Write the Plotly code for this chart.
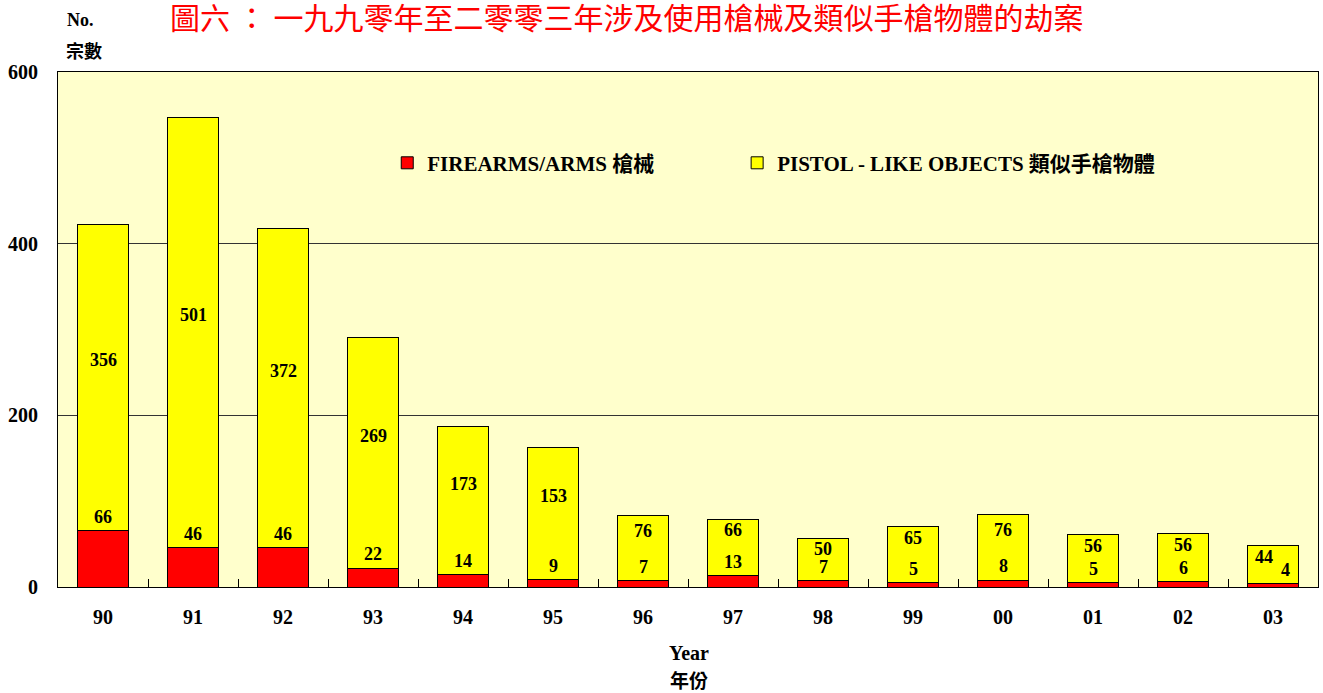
import plotly.graph_objects as go

years = ["90", "91", "92", "93", "94", "95", "96", "97", "98", "99", "00", "01", "02", "03"]
firearms = [66, 46, 46, 22, 14, 9, 7, 13, 7, 5, 8, 5, 6, 4]
pistol_like = [356, 501, 372, 269, 173, 153, 76, 66, 50, 65, 76, 56, 56, 44]
y_ticks = [0, 200, 400, 600]

title_text = "圖六 ： 一九九零年至二零零三年涉及使用槍械及類似手槍物體的劫案"
name_fire = "FIREARMS/ARMS 槍械"
name_pistol = "PISTOL - LIKE OBJECTS 類似手槍物體"

SERIF = "Liberation Serif, Times New Roman, Noto Sans CJK TC, serif"
CJK = "Noto Sans CJK TC, sans-serif"
LABEL_FONT = dict(family=SERIF, size=18, color="black")
LEGEND_FONT = dict(family=SERIF, size=21, color="black")

fig = go.Figure()
fig.add_trace(go.Bar(x=years, y=firearms, name="<b>" + name_fire + "</b>", legend="legend",
                     marker=dict(color="#FF0000", line=dict(color="black", width=1))))
fig.add_trace(go.Bar(x=years, y=pistol_like, name="<b>" + name_pistol + "</b>", legend="legend2",
                     marker=dict(color="#FFFF00", line=dict(color="black", width=1))))

for i, (yr, r, p) in enumerate(zip(years, firearms, pistol_like)):
    total = r + p
    red_y = r + 16
    yel_y = min(r + p / 2 + 20, total - 13)
    xs_r, xs_y = 0, 0
    if yel_y - red_y < 18:
        xs_r, xs_y = 12, -9
    fig.add_annotation(x=i, y=red_y, text="<b>%d</b>" % r, showarrow=False,
                       font=LABEL_FONT, xref="x", yref="y", xshift=xs_r)
    fig.add_annotation(x=i, y=yel_y, text="<b>%d</b>" % p, showarrow=False,
                       font=LABEL_FONT, xref="x", yref="y", xshift=xs_y)

fig.add_annotation(text=title_text, x=0.5, xref="paper", xanchor="center", xshift=-62,
                   y=1.0, yref="paper", yanchor="middle", yshift=56, showarrow=False,
                   font=dict(family=CJK, size=30, color="#FF0000"))
fig.add_annotation(text="<b>No.</b>", xref="paper", yref="paper", x=0.0, y=1.0,
                   xanchor="left", yanchor="middle", xshift=7, yshift=52, showarrow=False,
                   font=dict(family=SERIF, size=18, color="black"))
fig.add_annotation(text="<b>宗數</b>", xref="paper", yref="paper", x=0.0, y=1.0,
                   xanchor="left", yanchor="middle", xshift=6, yshift=22, showarrow=False,
                   font=dict(family=CJK, size=18, color="black"))
fig.add_annotation(text="<b>Year</b>", xref="paper", yref="paper", x=0.5, y=0.0,
                   xanchor="center", yanchor="middle", xshift=1, yshift=-66, showarrow=False,
                   font=dict(family=SERIF, size=20, color="black"))
fig.add_annotation(text="<b>年份</b>", xref="paper", yref="paper", x=0.5, y=0.0,
                   xanchor="center", yanchor="middle", xshift=1, yshift=-92, showarrow=False,
                   font=dict(family=CJK, size=19, color="black"))

fig.update_layout(
    barmode="stack",
    bargap=0.44,
    width=1323, height=693,
    margin=dict(l=58, r=5, t=72, b=106),
    paper_bgcolor="white",
    plot_bgcolor="#FFFFCC",
    showlegend=True,
    legend=dict(orientation="h", x=0.2613, y=0.823, xanchor="left", yanchor="middle",
                bgcolor="rgba(0,0,0,0)", font=LEGEND_FONT, itemwidth=30),
    legend2=dict(orientation="h", x=0.539, y=0.823, xanchor="left", yanchor="middle",
                 bgcolor="rgba(0,0,0,0)", font=LEGEND_FONT, itemwidth=30),
    xaxis=dict(type="category", showline=True, linecolor="black", linewidth=1, mirror=True,
               ticks="inside", tickson="boundaries", ticklen=8, tickcolor="black",
               tickvals=years, ticktext=["<b>%s</b>" % y for y in years], tickangle=0,
               tickfont=dict(family=SERIF, size=20, color="black"),
               ticklabelstandoff=12, showgrid=False, automargin=False),
    yaxis=dict(range=[0, 600], tickvals=y_ticks, ticktext=["<b>%d</b>" % v for v in y_ticks],
               showline=True, linecolor="black", linewidth=1,
               mirror=True, showgrid=True, gridcolor="#333333", gridwidth=1, zeroline=False,
               tickfont=dict(family=SERIF, size=20, color="black"), ticklabelstandoff=15,
               automargin=False),
)

fig.write_html("out.html", config={"displayModeBar": False},
               post_script="document.body.style.margin='0';document.body.style.overflow='hidden';")
